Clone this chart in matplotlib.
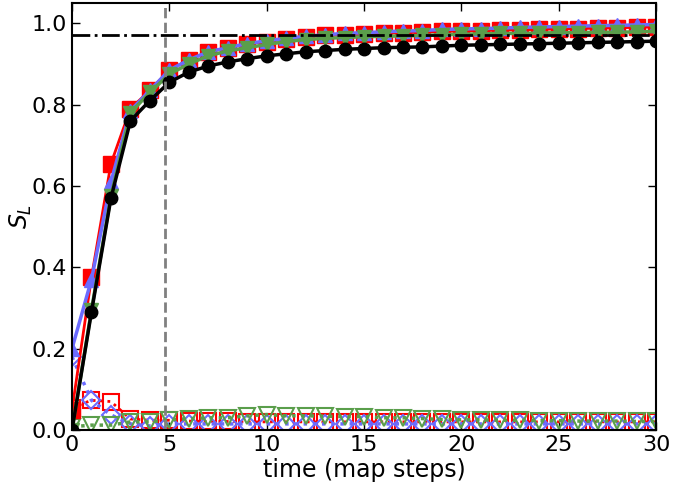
import matplotlib
matplotlib.use("Agg")
import matplotlib.pyplot as plt
import numpy as np

# time steps
t = np.arange(0, 31)

# upper curves (solid lines, filled markers)
red_top = [0.05, 0.375, 0.655, 0.79, 0.835, 0.885, 0.91, 0.93, 0.94, 0.95, 0.955,
           0.962, 0.967, 0.97, 0.972, 0.974, 0.976, 0.977, 0.978, 0.98, 0.981,
           0.982, 0.983, 0.984, 0.985, 0.986, 0.987, 0.988, 0.989, 0.99, 0.991]
blue_top = [0.2, 0.37, 0.61, 0.785, 0.835, 0.885, 0.91, 0.93, 0.94, 0.95, 0.957,
            0.963, 0.968, 0.972, 0.975, 0.977, 0.979, 0.981, 0.982, 0.985, 0.986,
            0.987, 0.988, 0.99, 0.991, 0.992, 0.993, 0.994, 0.995, 0.996, 0.997]
green_top = [0.0, 0.295, 0.575, 0.78, 0.83, 0.875, 0.9, 0.92, 0.932, 0.94, 0.948,
             0.955, 0.96, 0.963, 0.965, 0.967, 0.968, 0.969, 0.97, 0.972, 0.973,
             0.974, 0.975, 0.975, 0.976, 0.977, 0.977, 0.978, 0.978, 0.979, 0.98]
black_top = [0.0, 0.29, 0.57, 0.76, 0.81, 0.855, 0.88, 0.895, 0.905, 0.913, 0.92,
             0.925, 0.93, 0.933, 0.936, 0.938, 0.94, 0.941, 0.942, 0.944, 0.946,
             0.947, 0.948, 0.949, 0.95, 0.951, 0.952, 0.953, 0.954, 0.955, 0.956]

# lower curves (dotted lines, open markers)
red_low = [0.055, 0.073, 0.07, 0.027, 0.024, 0.024, 0.022, 0.021, 0.021, 0.02, 0.02,
           0.02, 0.02, 0.02, 0.02, 0.02, 0.02, 0.02, 0.02, 0.02, 0.02,
           0.02, 0.02, 0.02, 0.02, 0.02, 0.02, 0.02, 0.02, 0.02, 0.02]
blue_low = [0.18, 0.073, 0.037, 0.015, 0.01, 0.015, 0.015, 0.015, 0.015, 0.015, 0.015,
            0.015, 0.015, 0.015, 0.015, 0.015, 0.015, 0.015, 0.015, 0.015, 0.015,
            0.015, 0.015, 0.015, 0.015, 0.015, 0.015, 0.015, 0.015, 0.015, 0.015]
green_low = [0.008, 0.012, 0.012, 0.02, 0.02, 0.025, 0.028, 0.03, 0.03, 0.035, 0.038,
             0.035, 0.035, 0.034, 0.033, 0.033, 0.03, 0.03, 0.028, 0.026, 0.025,
             0.025, 0.024, 0.024, 0.023, 0.023, 0.022, 0.022, 0.022, 0.021, 0.021]

s_ref = 0.97
t_mark = 4.8

red = "#ff0000"
blue = "#6b6bff"
green = "#5a9e4b"

fig = plt.figure(figsize=(6.95, 4.92), dpi=100)
ax = fig.add_axes([0.1036, 0.126, 0.8405, 0.868])

# lower curves
ax.plot(t, red_low, ":", color=red, lw=2, marker="s", ms=11, mfc="none", mew=1.5)
ax.plot(t, blue_low, ":", color=blue, lw=2.5, marker="D", ms=9, mfc="none", mew=1.5)
ax.plot(t, green_low, ":", color=green, lw=2.5, marker="v", ms=11, mfc="none", mew=1.5)

# upper curves
ax.plot(t, red_top, "-", color=red, lw=2, marker="s", ms=11)
ax.plot(t, blue_top, "-", color=blue, lw=2.5, marker="^", ms=10)
ax.plot(t, green_top, "-", color=green, lw=2.5, marker="v", ms=10)
ax.plot(t, black_top, "-", color="black", lw=2.5, marker="o", ms=9)

ax.axhline(s_ref, color="black", ls="-.", lw=2)
ax.axvline(t_mark, color="gray", ls="--", lw=2)

ax.set_xlim(0, 30)
ax.set_ylim(0, 1.05)
ax.set_xticks([0, 5, 10, 15, 20, 25, 30])
ax.set_yticks([0.0, 0.2, 0.4, 0.6, 0.8, 1.0])
ax.tick_params(direction="in", top=True, right=True, labelsize=16, length=6, width=1)
for sp in ax.spines.values():
    sp.set_linewidth(1.5)

ax.set_xlabel("time (map steps)", fontsize=17, labelpad=2)
ax.set_ylabel("$S_L$", fontsize=17)
ax.yaxis.set_label_coords(-0.065, 0.5)

fig.savefig("out.png", dpi=100)
